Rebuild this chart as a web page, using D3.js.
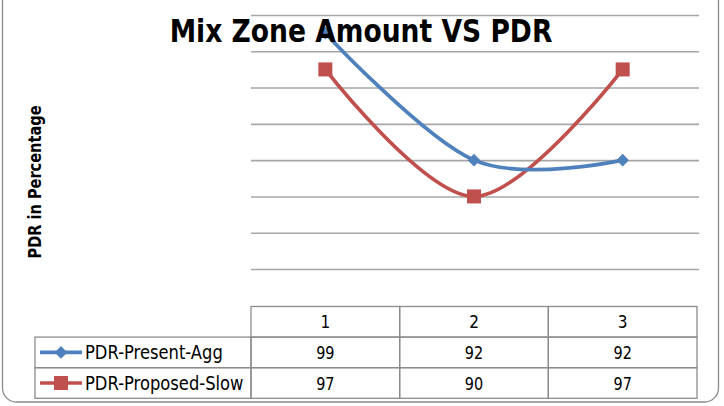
<!DOCTYPE html>
<html>
<head>
<meta charset="utf-8">
<script src="https://d3js.org/d3.v7.min.js"></script>
<style>
  body { margin: 0; background: #fff; }
  text { font-family: "DejaVu Sans", sans-serif; }
</style>
</head>
<body>
<div class="svg-container"></div>
<script>
var categories = ["1", "2", "3"];
var seriesNames = ["PDR-Present-Agg", "PDR-Proposed-Slow"];
var presentAgg = [99, 92, 92];
var proposedSlow = [97, 90, 97];
var gridTicks = [86, 88, 90, 92, 94, 96, 98, 100];

var width = 724;
var height = 406;
var plotLeft = 251, plotRight = 697;
var plotTop = 15, plotBottom = 269;

var svg = d3.select(".svg-container").append("svg")
    .attr("width", width)
    .attr("height", height);

// the source picture is squeezed sideways, so narrow the glyphs a bit
function squeeze(sel, k) {
    var w = sel.node().getComputedTextLength();
    sel.attr("textLength", w * k).attr("lengthAdjust", "spacingAndGlyphs");
    return sel;
}

// outer chart border
svg.append("rect")
    .attr("x", 2.5).attr("y", -12)
    .attr("width", 716).attr("height", 414)
    .attr("rx", 14)
    .attr("fill", "#fff")
    .attr("stroke", "#8a8a8a")
    .attr("stroke-width", 1.3);

var x = d3.scaleBand()
    .domain(categories)
    .range([plotLeft, plotRight]);

var y = d3.scaleLinear()
    .domain([86, 100])
    .range([plotBottom, plotTop]);

// gridlines
var grid = svg.append("g")
    .attr("transform", "translate(" + plotLeft + ",0)")
    .call(d3.axisLeft(y).tickValues(gridTicks).tickSize(-(plotRight - plotLeft + 2)).tickFormat(""));
grid.select(".domain").remove();
grid.selectAll("line").attr("stroke", "#a6a6a6").attr("stroke-width", 1.6);

// diamond = square turned 45deg
var series = [
    { name: seriesNames[0], values: presentAgg, color: "#4F81BD", size: 80, rot: 45 },
    { name: seriesNames[1], values: proposedSlow, color: "#C0504D", size: 196, rot: 0 }
];

var line = d3.line()
    .x(function(d, i) { return x(categories[i]) + x.bandwidth() / 2; })
    .y(function(d) { return y(d); })
    .curve(d3.curveCardinal.tension(0));

// red first, blue on top
[series[1], series[0]].forEach(function(s) {
    svg.append("path")
        .datum(s.values)
        .attr("d", line)
        .attr("fill", "none")
        .attr("stroke", s.color)
        .attr("stroke-width", 3.7);
    svg.selectAll(null)
        .data(s.values)
        .enter().append("path")
        .attr("d", d3.symbol().type(d3.symbolSquare).size(s.size))
        .attr("transform", function(d, i) {
            return "translate(" + (x(categories[i]) + x.bandwidth() / 2) + "," + y(d) + ") rotate(" + s.rot + ")";
        })
        .attr("fill", s.color);
});

// title
squeeze(svg.append("text")
    .attr("x", 361)
    .attr("y", 42)
    .attr("text-anchor", "middle")
    .style("font-size", "32px")
    .style("font-weight", "bold")
    .text("Mix Zone Amount VS PDR"), 0.83);

// y label
var yl = svg.append("text")
    .attr("transform", "translate(41,182) rotate(-90)")
    .attr("text-anchor", "middle")
    .style("font-size", "18px")
    .style("font-weight", "bold")
    .text("PDR in Percentage");
yl.attr("textLength", 153).attr("lengthAdjust", "spacingAndGlyphs");

// data table
var tableTop = 306.5, rowH = 30.6, legendLeft = 35;
var tableStroke = "#8c8c8c";
var tg = svg.append("g");

// header row
categories.forEach(function(c) {
    tg.append("rect")
        .attr("x", x(c)).attr("y", tableTop)
        .attr("width", x.bandwidth()).attr("height", rowH)
        .attr("fill", "none").attr("stroke", tableStroke).attr("stroke-width", 1.3);
    squeeze(tg.append("text")
        .attr("x", x(c) + x.bandwidth() / 2)
        .attr("y", tableTop + 21.5)
        .attr("text-anchor", "middle")
        .style("font-size", "18px")
        .text(c), 0.85);
});

series.forEach(function(s, r) {
    var ry = tableTop + rowH * (r + 1);
    tg.append("rect")
        .attr("x", legendLeft).attr("y", ry)
        .attr("width", plotLeft - legendLeft).attr("height", rowH)
        .attr("fill", "none").attr("stroke", tableStroke).attr("stroke-width", 1.3);
    tg.append("line")
        .attr("x1", 40).attr("x2", 82)
        .attr("y1", ry + rowH / 2).attr("y2", ry + rowH / 2)
        .attr("stroke", s.color).attr("stroke-width", 3.7);
    tg.append("path")
        .attr("d", d3.symbol().type(d3.symbolSquare).size(s.size))
        .attr("transform", "translate(61," + (ry + rowH / 2) + ") rotate(" + s.rot + ")")
        .attr("fill", s.color);
    squeeze(tg.append("text")
        .attr("x", 85)
        .attr("y", ry + 22)
        .style("font-size", "19px")
        .text(s.name), 0.86);
    s.values.forEach(function(v, i) {
        var c = categories[i];
        tg.append("rect")
            .attr("x", x(c)).attr("y", ry)
            .attr("width", x.bandwidth()).attr("height", rowH)
            .attr("fill", "none").attr("stroke", tableStroke).attr("stroke-width", 1.3);
        squeeze(tg.append("text")
            .attr("x", x(c) + x.bandwidth() / 2)
            .attr("y", ry + 22)
            .attr("text-anchor", "middle")
            .style("font-size", "18px")
            .text(v), 0.8);
    });
});
</script>
</body>
</html>
